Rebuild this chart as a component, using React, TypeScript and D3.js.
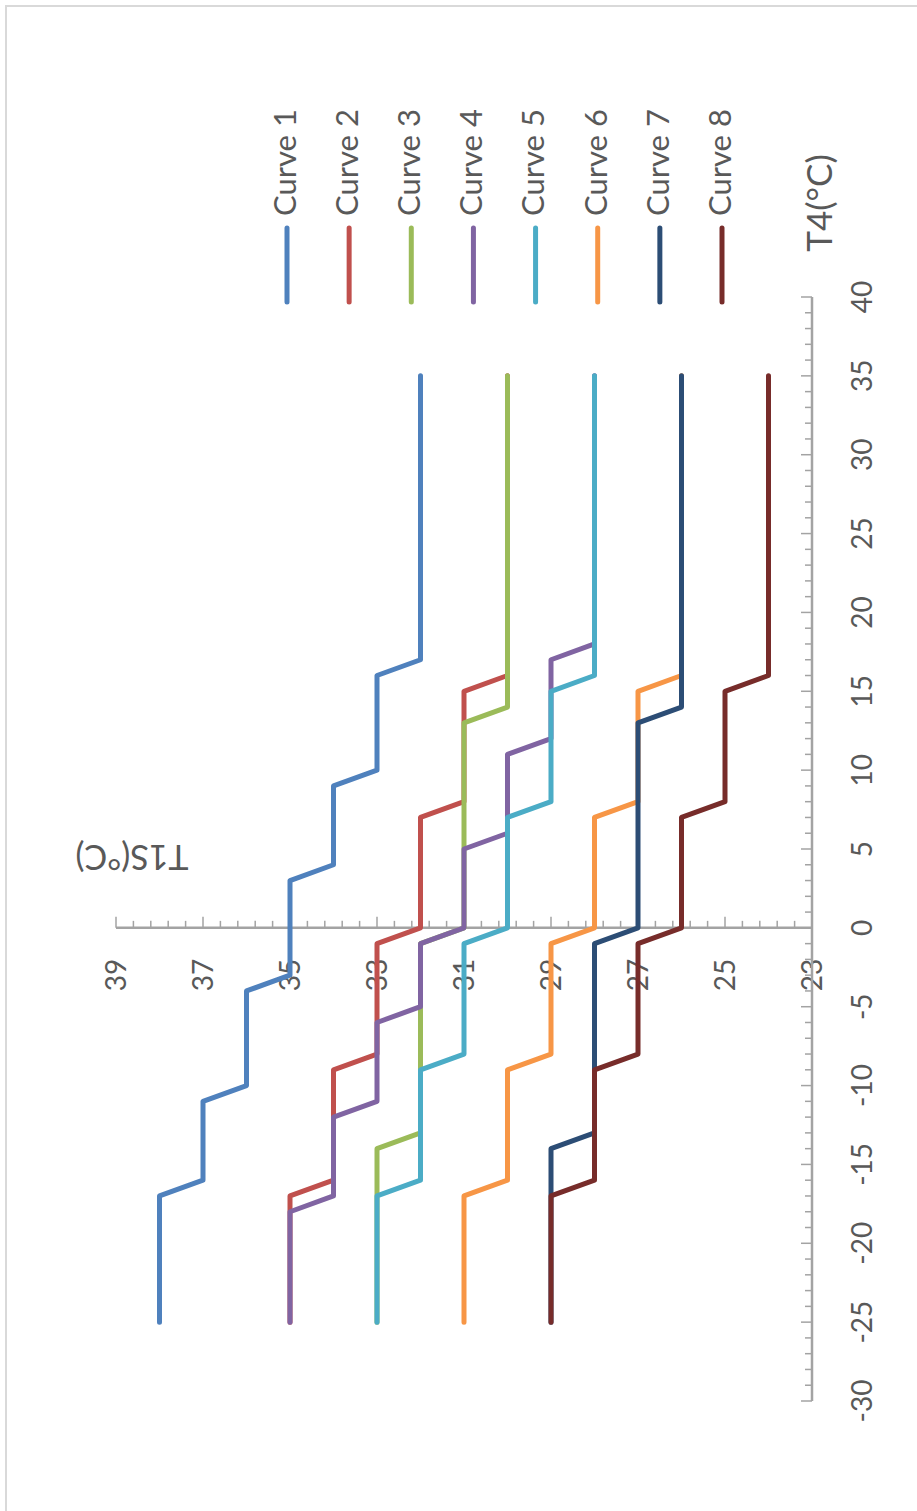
import React from 'react';
import * as d3 from 'd3';

const seriesNames = ['Curve 1', 'Curve 2', 'Curve 3', 'Curve 4', 'Curve 5', 'Curve 6', 'Curve 7', 'Curve 8'];
const seriesColors = ['#4F81BD', '#C0504D', '#9BBB59', '#8064A2', '#4BACC6', '#F79646', '#2C4D75', '#772C2A'];

// [T4, T1S]
const curve1 = [[-25, 38], [-17, 38], [-16, 37], [-11, 37], [-10, 36], [-4, 36], [-3, 35], [3, 35], [4, 34], [9, 34], [10, 33], [16, 33], [17, 32], [35, 32]];
const curve2 = [[-25, 35], [-17, 35], [-16, 34], [-9, 34], [-8, 33], [-1, 33], [0, 32], [7, 32], [8, 31], [15, 31], [16, 30], [35, 30]];
const curve3 = [[-25, 33], [-14, 33], [-13, 32], [-1, 32], [0, 31], [13, 31], [14, 30], [35, 30]];
const curve4 = [[-25, 35], [-18, 35], [-17, 34], [-12, 34], [-11, 33], [-6, 33], [-5, 32], [-1, 32], [0, 31], [5, 31], [6, 30], [11, 30], [12, 29], [17, 29], [18, 28], [35, 28]];
const curve5 = [[-25, 33], [-17, 33], [-16, 32], [-9, 32], [-8, 31], [-1, 31], [0, 30], [7, 30], [8, 29], [15, 29], [16, 28], [35, 28]];
const curve6 = [[-25, 31], [-17, 31], [-16, 30], [-9, 30], [-8, 29], [-1, 29], [0, 28], [7, 28], [8, 27], [15, 27], [16, 26], [35, 26]];
const curve7 = [[-25, 29], [-14, 29], [-13, 28], [-1, 28], [0, 27], [13, 27], [14, 26], [35, 26]];
const curve8 = [[-25, 29], [-17, 29], [-16, 28], [-9, 28], [-8, 27], [-1, 27], [0, 26], [7, 26], [8, 25], [15, 25], [16, 24], [35, 24]];
const curves = [curve1, curve2, curve3, curve4, curve5, curve6, curve7, curve8];

const t4Domain = [-30, 40];
const t1sDomain = [23, 39];
const t4Ticks = d3.range(-30, 41, 5);
const t1sTicks = d3.range(23, 40, 2);

const xTitle = 'T4(°C)';
const yTitle = 'T1S(°C)';

const FONT = 'Lato, "Open Sans", sans-serif';
const TXT = '#595959';
const AX = '#A3A3A3';

export default function App() {
  // chart is rotated 90° counter-clockwise: T4 runs upward, T1S runs leftward
  const sy = d3.scaleLinear().domain(t4Domain).range([1401, 297]);
  const sx = d3.scaleLinear().domain(t1sDomain).range([812, 116]);
  const line = d3.line<number[]>().x(d => sx(d[1])).y(d => sy(d[0]));

  const axisX = sx(t1sDomain[0]);
  const axisY = sy(0);

  const t4Minor = d3.range(-30, 41, 1);
  const t1sMinor = d3.range(0, 41).map(i => 23 + i * 0.4);

  const legendX = d3.scalePoint<string>().domain(seriesNames).range([287, 722]);

  return (
    <svg width={917} height={1511} style={{ position: 'absolute', left: 0, top: 0, background: '#fff' }}>
      <rect x={6} y={6} width={940} height={1540} fill="#fff" stroke="#D9D9D9" strokeWidth={2} />

      {/* T1S axis (horizontal line at T4 = 0) */}
      <line x1={sx(t1sDomain[1])} x2={axisX} y1={axisY} y2={axisY} stroke={AX} strokeWidth={2.5} />
      {t1sMinor.map((v, i) => (
        <line key={'ym' + i} x1={sx(v)} x2={sx(v)} y1={axisY} y2={axisY - (i % 5 === 0 ? 11 : 7)} stroke={AX} strokeWidth={1.5} />
      ))}
      {t1sTicks.map(v => (
        <text key={'yl' + v} transform={`translate(${sx(v)},975) rotate(-90)`} textAnchor="middle" dy="0.35em"
          fontFamily={FONT} fontSize={28} fill={TXT}>{v}</text>
      ))}

      {/* T4 axis (vertical line at T1S = 23) */}
      <line x1={axisX} x2={axisX} y1={sy(t4Domain[0])} y2={sy(t4Domain[1])} stroke={AX} strokeWidth={2.5} />
      {t4Minor.map(t => (
        <line key={'xm' + t} x1={axisX} x2={axisX - (t % 5 === 0 ? 11 : 7)} y1={sy(t)} y2={sy(t)} stroke={AX} strokeWidth={1.5} />
      ))}
      {t4Ticks.map(t => (
        <text key={'xl' + t} transform={`translate(862,${sy(t)}) rotate(-90)`} textAnchor="middle" dy="0.35em"
          fontFamily={FONT} fontSize={28} fill={TXT}>{t}</text>
      ))}

      {/* axis titles */}
      <text transform="translate(132,857) rotate(180)" textAnchor="middle" dy="0.35em" fontFamily={FONT} fontSize={34} fill={TXT}>{yTitle}</text>
      <text transform="translate(820,203) rotate(-90)" textAnchor="middle" dy="0.35em" fontFamily={FONT} fontSize={35} fill={TXT}>{xTitle}</text>

      {/* series */}
      {curves.map((c, i) => (
        <path key={'s' + i} d={line(c) || ''} fill="none" stroke={seriesColors[i]} strokeWidth={5}
          strokeLinejoin="round" strokeLinecap="round" />
      ))}

      {/* legend */}
      {seriesNames.map((n, i) => {
        const x = legendX(n) as number;
        return (
          <g key={'lg' + i}>
            <line x1={x} x2={x} y1={302} y2={228} stroke={seriesColors[i]} strokeWidth={5} strokeLinecap="round" />
            <text transform={`translate(${x - 2},216) rotate(-90)`} textAnchor="start" dy="0.35em"
              fontFamily={FONT} fontSize={31} fill={TXT}>{n}</text>
          </g>
        );
      })}
    </svg>
  );
}
